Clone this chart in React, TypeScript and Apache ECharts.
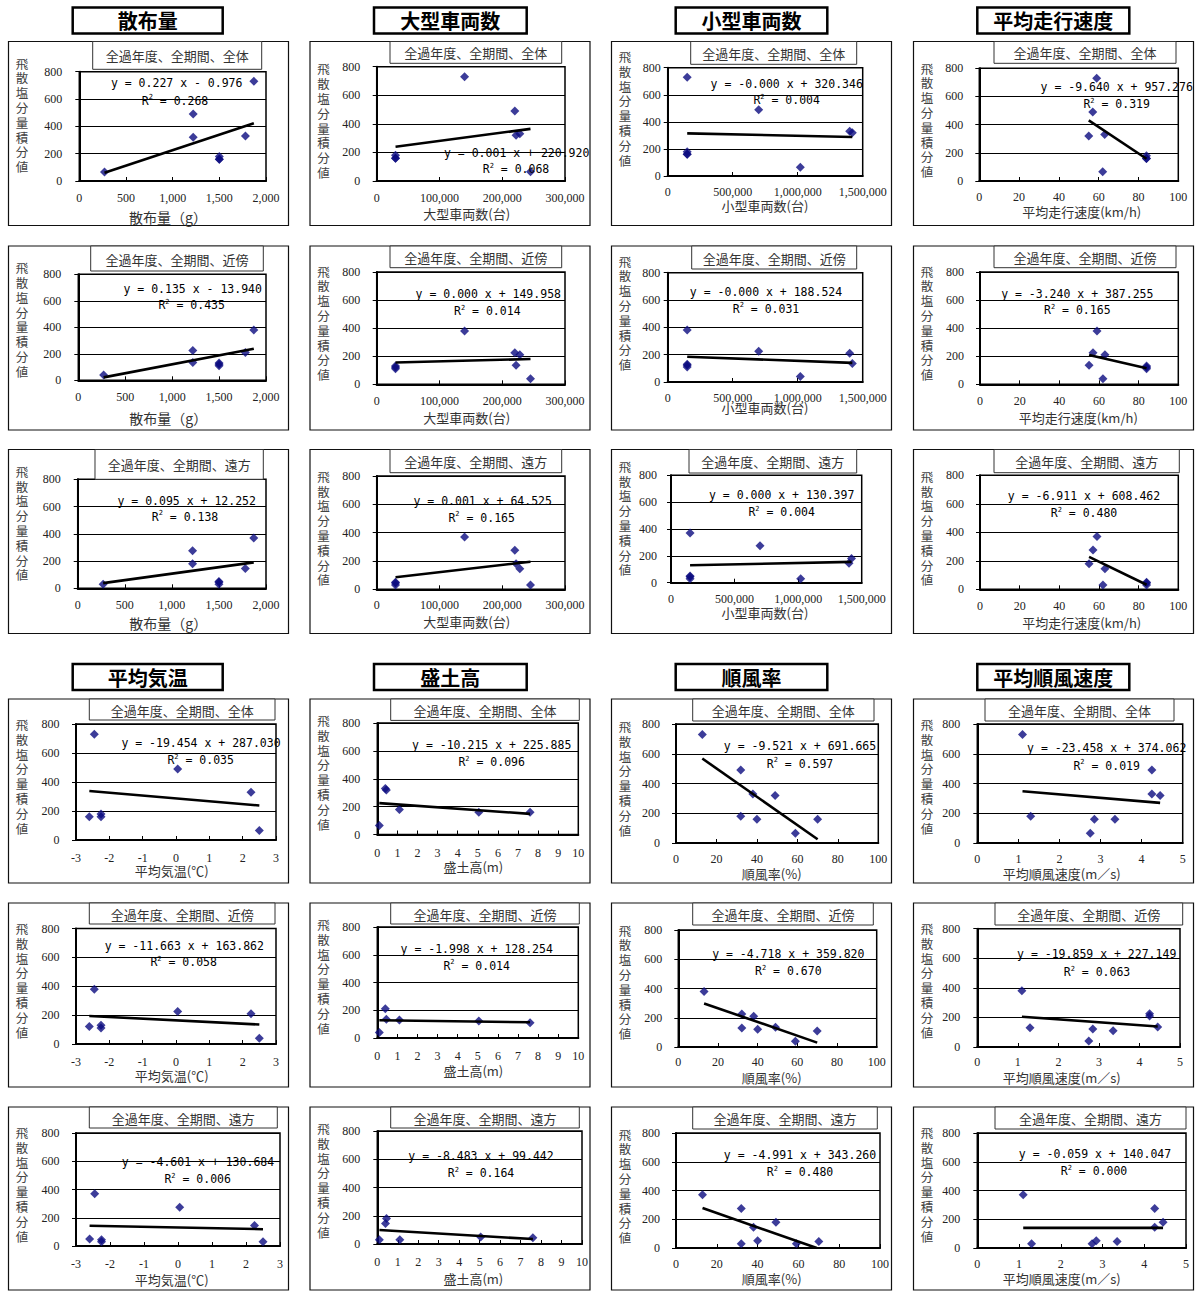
import React, { useEffect, useRef } from "react";
import * as echarts from "echarts";

// ---------- data ----------
const headers = ["散布量", "大型車両数", "小型車両数", "平均走行速度", "平均気温", "盛土高", "順風率", "平均順風速度"];
const regionLabels = ["全過年度、全期間、全体", "全過年度、全期間、近傍", "全過年度、全期間、遠方"];
const xNames = ["散布量（g）", "大型車両数(台)", "小型車両数(台)", "平均走行速度(km/h)", "平均気温(℃)", "盛土高(m)", "順風率(%)", "平均順風速度(m／s)"];
const yName = "飛散塩分量積分値";

// salt deposition per site (全体 / 近傍 / 遠方)
const yWhole = [730, 490, 330, 320, 180, 160, 160, 65];
const yNear = [380, 225, 210, 135, 130, 122, 110, 40];
const yFar = [370, 275, 145, 180, 30, 50, 45, 30];

// explanatory variables per site (null = not plotted)
const xSpread = [1870, 1220, 1780, 1220, 1500, 1500, 1500, 270];
const xLarge = [140000, 220000, 228000, 222000, 30000, 30000, 30000, 245000];
const xSmall = [150000, 700000, 1400000, 1420000, 150000, 150000, 150000, 1020000];
const xSpeed = [59, 57, 63, 55, 84, 84, 84, 62];
const xTemp = [-2.45, 0.05, 2.25, null, -2.25, -2.6, -2.25, 2.5];
const xBank = [null, null, 0.4, 0.45, 1.1, 5.05, 7.6, 0.1];
const xTailRate = [13, 32, 38, 49, 32, 40, 70, 59];
const xTailSpeed = [1.1, 4.25, 4.25, 4.45, 1.3, 2.85, 3.35, 2.75];

// axis ranges
const xMins = [0, 0, 0, 0, -3, 0, 0, 0];
const xMaxs = [2000, 300000, 1500000, 100, 3, 10, 100, 5];
const xSteps = [500, 100000, 500000, 20, 1, 1, 20, 1];
const yMin = 0;
const yMax = 800;
const yStep = 200;

// trend line end points [x1, y1, x2, y2]
const trendWhole = [
  [270, 60, 1870, 423], [30000, 240, 245000, 365], [150000, 315, 1420000, 288], [55, 430, 84, 158],
  [-2.6, 338, 2.5, 238], [0.1, 225, 7.6, 148], [13, 568, 70, 25], [1.1, 348, 4.45, 270],
];
const trendNear = [
  [270, 22, 1870, 238], [30000, 155, 245000, 180], [150000, 185, 1420000, 140], [55, 209, 84, 115],
  [-2.6, 194, 2.5, 135], [0.1, 128, 7.6, 113], [13, 298, 70, 30], [1.1, 205, 4.45, 139],
];
const trendFar = [
  [270, 38, 1870, 190], [30000, 85, 245000, 195], [150000, 130, 1420000, 155], [55, 228, 84, 32],
  [-2.6, 143, 2.5, 119], [0.1, 99, 7.6, 35], [13, 278, 69, 0], [1.1, 140, 4.45, 140],
];

// regression equations
const eqWhole = ["y = 0.227 x - 0.976", "y = 0.001 x + 220.920", "y = -0.000 x + 320.346", "y = -9.640 x + 957.276",
  "y = -19.454 x + 287.030", "y = -10.215 x + 225.885", "y = -9.521 x + 691.665", "y = -23.458 x + 374.062"];
const r2Whole = ["0.268", "0.068", "0.004", "0.319", "0.035", "0.096", "0.597", "0.019"];
const eqNear = ["y = 0.135 x - 13.940", "y = 0.000 x + 149.958", "y = -0.000 x + 188.524", "y = -3.240 x + 387.255",
  "y = -11.663 x + 163.862", "y = -1.998 x + 128.254", "y = -4.718 x + 359.820", "y = -19.859 x + 227.149"];
const r2Near = ["0.435", "0.014", "0.031", "0.165", "0.058", "0.014", "0.670", "0.063"];
const eqFar = ["y = 0.095 x + 12.252", "y = 0.001 x + 64.525", "y = 0.000 x + 130.397", "y = -6.911 x + 608.462",
  "y = -4.601 x + 130.684", "y = -8.483 x + 99.442", "y = -4.991 x + 343.260", "y = -0.059 x + 140.047"];
const r2Far = ["0.138", "0.165", "0.004", "0.480", "0.006", "0.164", "0.480", "0.000"];

const xData = [xSpread, xLarge, xSmall, xSpeed, xTemp, xBank, xTailRate, xTailSpeed];
const yData = [yWhole, yNear, yFar];
const trends = [trendWhole, trendNear, trendFar];
const eqs = [eqWhole, eqNear, eqFar];
const r2s = [r2Whole, r2Near, r2Far];

// ---------- layout (pixels) ----------
const W = 1197;
const H = 1291;
const colX = [8.5, 310, 611.5, 913.5];
const rowY = [41.5, 246, 449.5, 699, 903, 1107];
const frameW = 280;
const frameH = [184, 184, 184, 184, 184, 183];
const headBoxes = [[72.7, 222.7], [374, 526.7], [675.7, 827.3], [977.3, 1129.3]];
const headTops = [7.5, 664];
const headH = 26;
const yNameStep = 14.8;

type P = { plot: number[]; box: number[]; eq: number[]; r2: number[]; xn: number[]; ny: number; ym: number; xm: number };
const panels: P[] = [
  { plot: [79.3, 71.7, 266, 181], box: [92.7, 261.7, 69.3], eq: [176.7, 83.3], r2: [175, 100.7], xn: [168, 217], ny: 21.6, ym: 17, xm: 10.5 },
  { plot: [376.7, 66.7, 565, 181], box: [390, 561.7, 63.3], eq: [516.7, 152.7], r2: [516, 169.3], xn: [466.7, 213.5], ny: 27.3, ym: 16.5, xm: 10.5 },
  { plot: [667.7, 67.7, 862.7, 176], box: [690.7, 856.7, 64.3], eq: [786.7, 84.3], r2: [786.7, 100], xn: [765, 205], ny: 15, ym: 7, xm: 10 },
  { plot: [979.3, 68.3, 1178.3, 181], box: [994, 1176, 63.3], eq: [1116.7, 87.3], r2: [1116.7, 104.3], xn: [1081.7, 211.5], ny: 26.6, ym: 16, xm: 10 },

  { plot: [78.3, 274.3, 266, 380.3], box: [90.7, 263.3, 271], eq: [192.7, 289.3], r2: [191.7, 305.3], xn: [168.3, 417.7], ny: 21.7, ym: 17, xm: 11 },
  { plot: [376.7, 272, 565, 384.3], box: [390, 561.7, 267.7], eq: [488.3, 293.7], r2: [487.3, 311], xn: [466.7, 417.7], ny: 25, ym: 16.5, xm: 10.5 },
  { plot: [667.7, 272.7, 862.7, 382], box: [691.7, 856.7, 269], eq: [766, 292], r2: [766, 308.7], xn: [765, 407.7], ny: 15, ym: 7.5, xm: 10 },
  { plot: [980, 272, 1178.3, 384.3], box: [994, 1176, 267.7], eq: [1077.3, 293.7], r2: [1077.3, 310], xn: [1078.3, 417.7], ny: 25, ym: 16, xm: 10.5 },

  { plot: [77.7, 479.3, 266, 588.3], box: [95, 263.3, 479.3], eq: [186.7, 501], r2: [185, 516.7], xn: [168.3, 622.7], ny: 21.7, ym: 17, xm: 10.5 },
  { plot: [376.7, 476, 565, 589.3], box: [390, 561.7, 472.7], eq: [482.7, 501], r2: [481.7, 517.7], xn: [466.7, 621], ny: 26.7, ym: 16.5, xm: 10 },
  { plot: [671, 475.3, 861.7, 582.7], box: [689, 856.7, 473], eq: [781.7, 495.3], r2: [781.7, 512], xn: [765, 612.7], ny: 16.7, ym: 14, xm: 10 },
  { plot: [980, 475.3, 1178.3, 589.3], box: [994, 1179.3, 472.7], eq: [1084, 496], r2: [1084, 513.3], xn: [1081.7, 622.7], ny: 26.7, ym: 16, xm: 10.5 },

  { plot: [76, 724, 276, 840], box: [89.3, 275, 720], eq: [201, 742.7], r2: [200.7, 760], xn: [171.7, 870.8], ny: 25.5, ym: 16.5, xm: 11.5 },
  { plot: [377.3, 723, 578.3, 834.5], box: [390.7, 579.3, 720.4], eq: [491.7, 744.7], r2: [491.7, 762], xn: [473.3, 866], ny: 21.4, ym: 17, xm: 12 },
  { plot: [676, 724, 878.3, 843], box: [692.7, 874, 721], eq: [800, 745.5], r2: [800, 763.7], xn: [771.7, 873], ny: 27.5, ym: 16, xm: 9.5 },
  { plot: [977.3, 724, 1182.7, 843], box: [985, 1174, 721], eq: [1106.7, 748], r2: [1106.7, 765.7], xn: [1061.7, 873], ny: 25.5, ym: 17, xm: 9.5 },

  { plot: [76, 928.5, 276, 1044], box: [89.3, 275, 924], eq: [184.3, 945.7], r2: [183.7, 962.3], xn: [171.7, 1075], ny: 25.5, ym: 16.5, xm: 11.5 },
  { plot: [377.3, 927, 578.3, 1038], box: [390.7, 579.3, 924], eq: [476.7, 948.9], r2: [476.7, 965.5], xn: [473.3, 1070.5], ny: 21.4, ym: 17, xm: 11.5 },
  { plot: [678.3, 930, 876.7, 1047], box: [692.7, 873.3, 925], eq: [788.3, 953.8], r2: [788.3, 971.2], xn: [771.7, 1077], ny: 27, ym: 16, xm: 9 },
  { plot: [977.3, 928.7, 1180, 1047], box: [995, 1182.7, 925], eq: [1096.7, 954.2], r2: [1097, 972], xn: [1061.7, 1077], ny: 25.5, ym: 17, xm: 9 },

  { plot: [76, 1133, 280, 1246], box: [89.3, 277.3, 1128], eq: [198, 1162], r2: [197.7, 1179], xn: [171.7, 1279], ny: 25.5, ym: 16.5, xm: 11.5 },
  { plot: [377.3, 1131, 582, 1244], box: [390.7, 579.3, 1128], eq: [481, 1156], r2: [481, 1173], xn: [473.3, 1278], ny: 21.4, ym: 17, xm: 11.5 },
  { plot: [676, 1133, 880, 1248], box: [692.7, 877.3, 1129], eq: [800, 1155], r2: [800, 1172], xn: [771.7, 1278.5], ny: 27, ym: 16, xm: 9.5 },
  { plot: [977.3, 1133, 1186, 1248], box: [995, 1186, 1129], eq: [1095, 1154], r2: [1094, 1171], xn: [1061.7, 1278.5], ny: 25.5, ym: 17, xm: 9.5 },
];

const GOTHIC = "'Noto Sans CJK JP', 'Noto Sans', sans-serif";
const SERIF = "'Liberation Serif', 'DejaVu Serif', serif";
const MONO = "'DejaVu Sans Mono', 'Liberation Mono', monospace";
const MARKER = "#0b0b80";

function buildOption() {
  const grid: any[] = [];
  const xAxis: any[] = [];
  const yAxis: any[] = [];
  const series: any[] = [];
  const graphic: any[] = [];

  // section headers
  headers.forEach((h, i) => {
    const sec = i < 4 ? 0 : 1;
    const c = i % 4;
    const [x1, x2] = headBoxes[c];
    const y1 = headTops[sec];
    graphic.push({
      type: "rect", silent: true, z: 5,
      shape: { x: x1, y: y1, width: x2 - x1, height: headH },
      style: { fill: "#fff", stroke: "#000", lineWidth: 2.5 },
    });
    graphic.push({
      type: "text", silent: true, z: 6, x: (x1 + x2) / 2, y: y1 + headH / 2,
      style: { text: h, fill: "#000", fontSize: 20, fontWeight: "bold", fontFamily: GOTHIC, align: "center", verticalAlign: "middle" },
    });
  });

  panels.forEach((L, i) => {
    const row = Math.floor(i / 4);
    const col = i % 4;
    const v = (row < 3 ? 0 : 4) + col;
    const region = row % 3;
    const fx = colX[col];
    const fy = rowY[row];

    // outer frame
    graphic.push({
      type: "rect", silent: true, z: 1,
      shape: { x: fx, y: fy, width: frameW, height: frameH[row] },
      style: { fill: "none", stroke: "#111", lineWidth: 1.2 },
    });
    // region label box
    graphic.push({
      type: "rect", silent: true, z: 2,
      shape: { x: L.box[0], y: fy, width: L.box[1] - L.box[0], height: L.box[2] - fy },
      style: { fill: "#fff", stroke: "#333", lineWidth: 1 },
    });
    graphic.push({
      type: "text", silent: true, z: 3, x: (L.box[0] + L.box[1]) / 2, y: (fy + L.box[2]) / 2 + 0.5,
      style: { text: regionLabels[region], fill: "#333", fontSize: 13, fontFamily: GOTHIC, align: "center", verticalAlign: "middle" },
    });
    // y axis name (vertical, one character per line)
    yName.split("").forEach((ch, k) => {
      graphic.push({
        type: "text", silent: true, z: 3, x: fx + 13.5, y: fy + L.ny + k * yNameStep,
        style: { text: ch, fill: "#444", fontSize: 12.5, fontFamily: GOTHIC, align: "center", verticalAlign: "middle" },
      });
    });
    // x axis name
    graphic.push({
      type: "text", silent: true, z: 3, x: L.xn[0], y: L.xn[1],
      style: { text: xNames[v], fill: "#333", fontSize: v === 0 ? 14 : 13, fontFamily: GOTHIC, align: "center", verticalAlign: "middle" },
    });
    // equation + R2
    graphic.push({
      type: "text", silent: true, z: 20, x: L.eq[0], y: L.eq[1],
      style: { text: eqs[region][v], fill: "#000", fontSize: 11.5, fontFamily: MONO, align: "center", verticalAlign: "middle" },
    });
    graphic.push({
      type: "text", silent: true, z: 20, x: L.r2[0], y: L.r2[1],
      style: {
        text: `R{s|2} = ${r2s[region][v]}`, fill: "#000", fontSize: 11.5, lineHeight: 14, fontFamily: MONO,
        align: "center", verticalAlign: "middle",
        rich: { s: { fontSize: 7, lineHeight: 7, verticalAlign: "top", fontFamily: MONO, fill: "#000" } },
      },
    });

    // grid
    grid.push({
      left: L.plot[0], top: L.plot[1], width: L.plot[2] - L.plot[0], height: L.plot[3] - L.plot[1],
      show: true, borderColor: "#000", borderWidth: 1.5, backgroundColor: "transparent", containLabel: false,
    });
    xAxis.push({
      type: "value", gridIndex: i, min: xMins[v], max: xMaxs[v], interval: xSteps[v],
      axisLine: { show: true, onZero: false, lineStyle: { color: "#000", width: 2 } },
      axisTick: { show: true, inside: true, length: 4, lineStyle: { color: "#000", width: 1 } },
      axisLabel: {
        margin: L.xm, fontSize: 12, fontFamily: SERIF, color: "#222", showMinLabel: true, showMaxLabel: true,
        formatter: (val: number) => val.toLocaleString("en-US"),
      },
      splitLine: { show: false },
    });
    yAxis.push({
      type: "value", gridIndex: i, min: yMin, max: yMax, interval: yStep,
      axisLine: { show: true, onZero: false, lineStyle: { color: "#000", width: 2 } },
      axisTick: { show: true, inside: false, length: 4, lineStyle: { color: "#000", width: 1 } },
      axisLabel: { margin: L.ym, fontSize: 12, fontFamily: SERIF, color: "#222", showMinLabel: true, showMaxLabel: true },
      splitLine: { show: true, lineStyle: { color: "#000", width: 1 } },
    });

    const xs = xData[v];
    const ys = yData[region];
    const pts: number[][] = [];
    xs.forEach((x, k) => {
      if (x !== null) pts.push([x as number, ys[k]]);
    });
    series.push({
      type: "scatter", xAxisIndex: i, yAxisIndex: i, data: pts,
      symbol: "diamond", symbolSize: 9, itemStyle: { color: MARKER }, z: 3, silent: true,
    });
    const t = trends[region][v];
    series.push({
      type: "line", xAxisIndex: i, yAxisIndex: i, data: [[t[0], t[1]], [t[2], t[3]]],
      symbol: "none", lineStyle: { color: "#000", width: 2.6 }, z: 4, silent: true, clip: true,
    });
  });

  return {
    animation: false,
    backgroundColor: "#fff",
    grid, xAxis, yAxis, series, graphic,
  };
}

export default function App() {
  const ref = useRef<HTMLDivElement>(null);
  useEffect(() => {
    if (!ref.current) return;
    const chart = echarts.init(ref.current, undefined, { renderer: "svg", width: W, height: H });
    chart.setOption(buildOption() as any);
    return () => chart.dispose();
  }, []);
  return (
    <div
      ref={ref}
      style={{ position: "absolute", left: 0, top: 0, width: W, height: H, background: "#fff", overflow: "hidden" }}
    />
  );
}
